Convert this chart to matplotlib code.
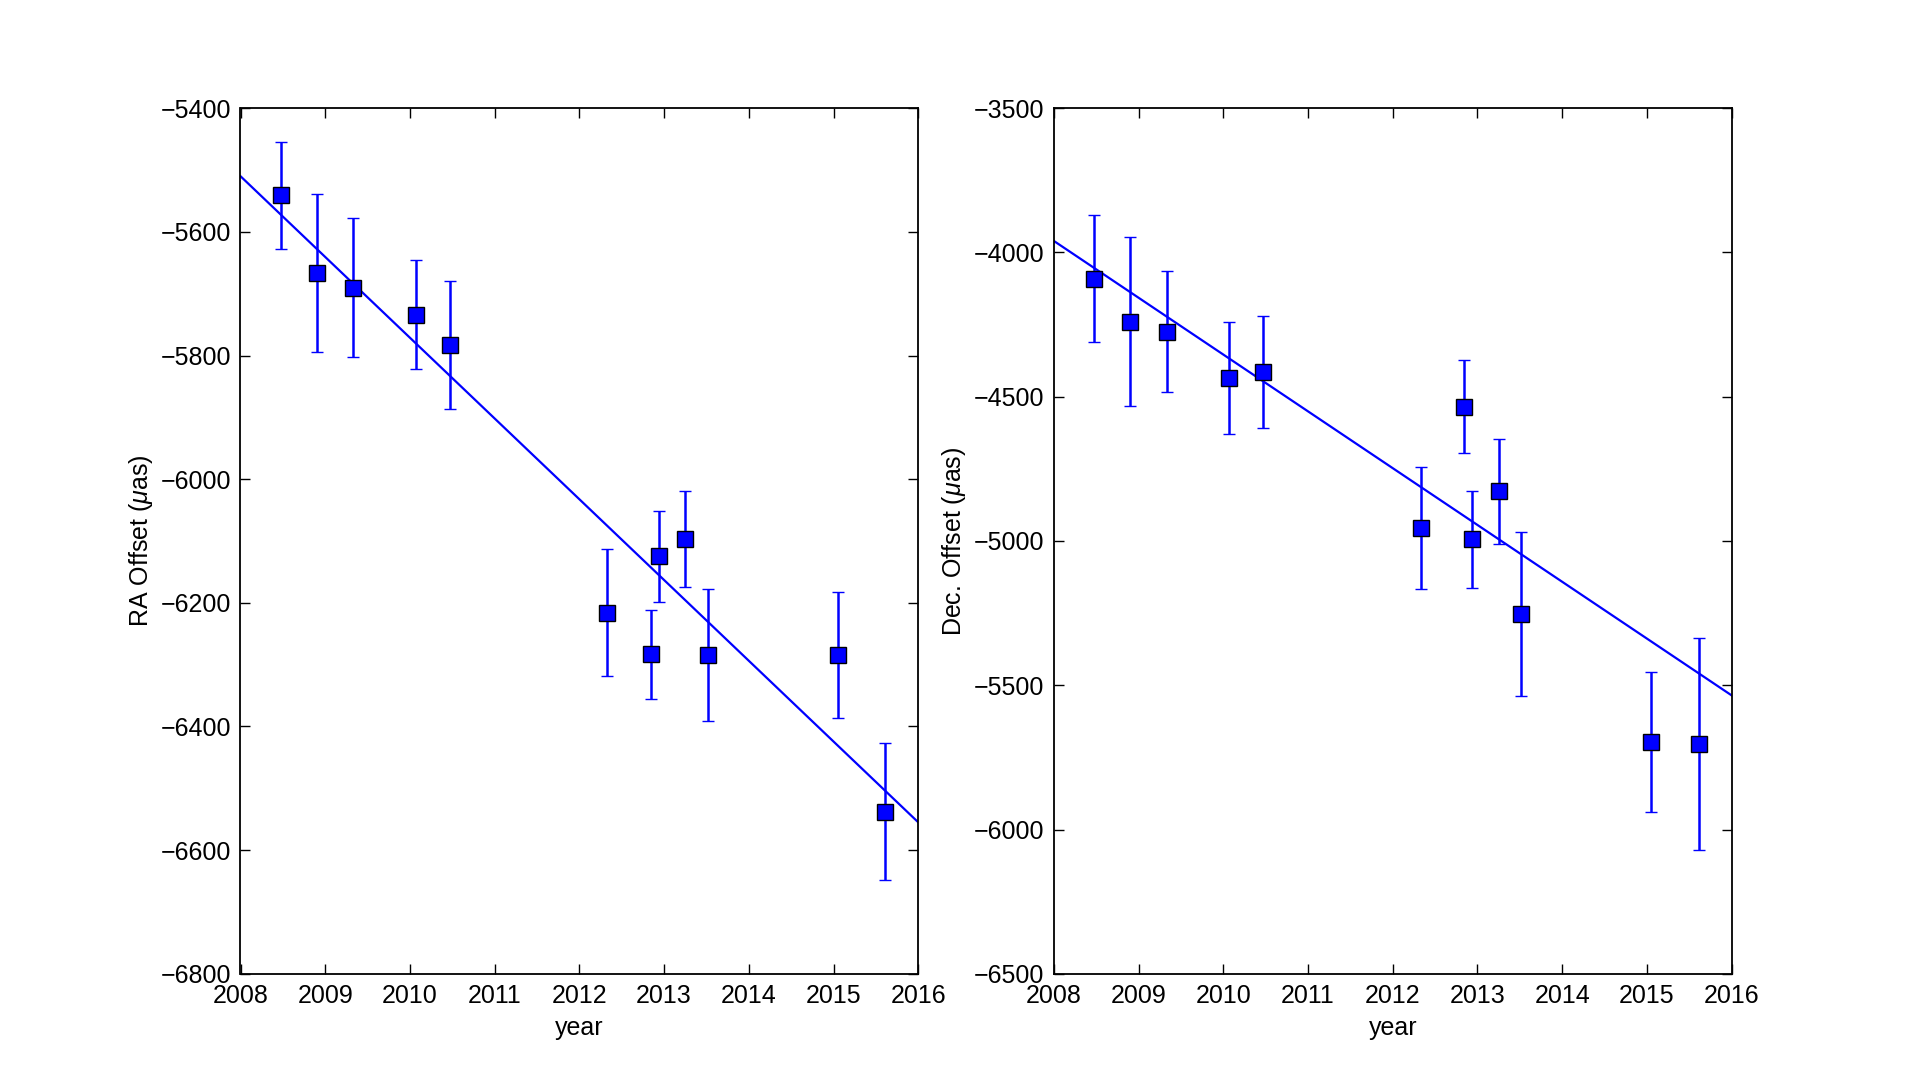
import numpy as np
import matplotlib
matplotlib.use("Agg")
import matplotlib.pyplot as plt

plt.rcParams["font.family"] = ["Liberation Sans", "DejaVu Sans"]
plt.rcParams["mathtext.fontset"] = "custom"
plt.rcParams["mathtext.it"] = "Liberation Sans:italic"
plt.rcParams["mathtext.rm"] = "Liberation Sans"
plt.rcParams["font.size"] = 18

# epochs of observation (decimal year)
epoch = [2008.48, 2008.90, 2009.33, 2010.07, 2010.47, 2012.33,
         2012.84, 2012.94, 2013.25, 2013.52, 2015.05, 2015.61]

# RA offsets and errors (micro-arcsec)
ra = [-5541, -5666, -5690, -5734, -5783, -6216,
      -6283, -6125, -6097, -6284, -6284, -6538]
ra_err = [86, 128, 112, 88, 103, 103, 72, 73, 78, 107, 102, 111]

# Dec offsets and errors (micro-arcsec)
dec = [-4091, -4240, -4274, -4436, -4415, -4955,
       -4534, -4994, -4828, -5253, -5696, -5704]
dec_err = [221, 293, 210, 194, 194, 213, 160, 168, 181, 283, 243, 368]

# fitted linear motion, value at 2008 and at 2016
ra_fit = [-5510, -6555]
dec_fit = [-3960, -5535]
fit_years = [2008, 2016]

fig, (ax1, ax2) = plt.subplots(1, 2, figsize=(19.24, 10.82), dpi=100)
fig.subplots_adjust(left=0.125, right=0.9, bottom=0.1, top=0.9, wspace=0.2)

panels = [
    (ax1, ra, ra_err, ra_fit, r"RA Offset ($\mu$as)", (-6800, -5400), np.arange(-6800, -5399, 200)),
    (ax2, dec, dec_err, dec_fit, r"Dec. Offset ($\mu$as)", (-6500, -3500), np.arange(-6500, -3499, 500)),
]

for ax, y, yerr, fit, label, ylim, yticks in panels:
    ax.plot(fit_years, fit, color="blue", linewidth=1.6, zorder=2)
    ax.errorbar(epoch, y, yerr=yerr, fmt="s", color="blue", ecolor="blue",
                markersize=11, markeredgecolor="black", markeredgewidth=1.0,
                elinewidth=1.8, capsize=4.5, capthick=1.4, zorder=3)
    ax.set_xlim(2008, 2016)
    ax.set_ylim(*ylim)
    ax.set_yticks(yticks)
    ax.set_xticks(range(2008, 2017))
    ax.set_xlabel("year", labelpad=6)
    ax.set_ylabel(label)
    ax.tick_params(direction="in", length=7, width=1, top=True, right=True, pad=7)
    for s in ax.spines.values():
        s.set_linewidth(1.3)

fig.savefig("out.png", dpi=100)
